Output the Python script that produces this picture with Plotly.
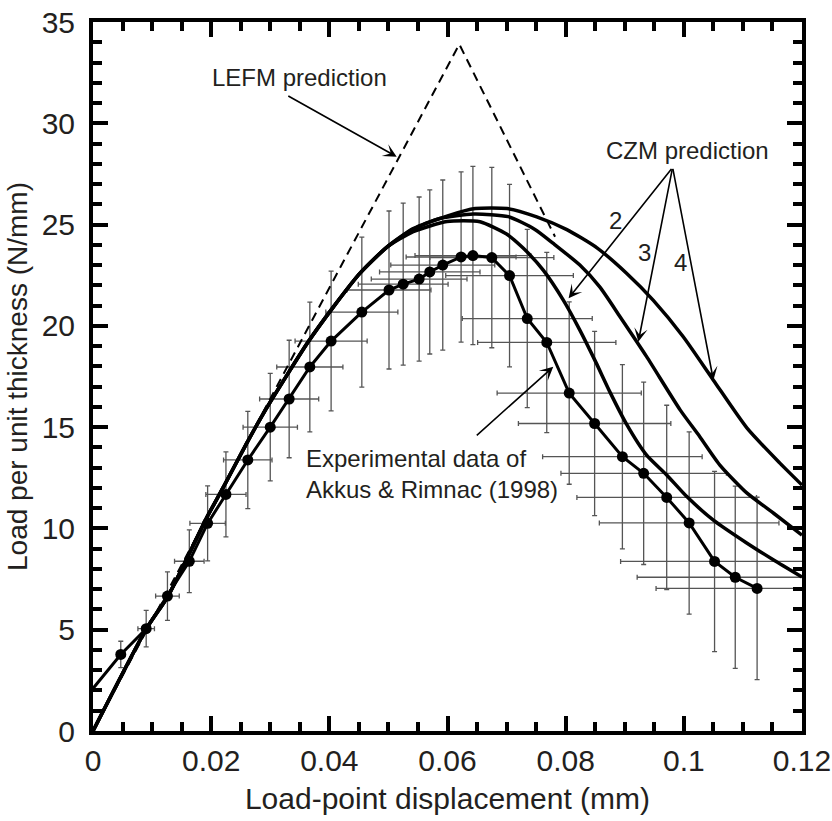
import plotly.graph_objects as go

exp_x = [0.0047, 0.0090, 0.0126, 0.0163, 0.0194, 0.0225, 0.0262, 0.0300, 0.0332, 0.0367,
         0.0403, 0.0455, 0.0501, 0.0525, 0.0552, 0.0570, 0.0592, 0.0623, 0.0643, 0.0675,
         0.0705, 0.0735, 0.0768, 0.0806, 0.0849, 0.0896, 0.0932, 0.0971, 0.1009, 0.1052,
         0.1087, 0.1124]
exp_y = [3.78, 5.05, 6.66, 8.38, 10.25, 11.68, 13.38, 15.0, 16.39, 17.97,
         19.25, 20.68, 21.77, 22.06, 22.31, 22.66, 23.0, 23.4, 23.47, 23.37,
         22.48, 20.36, 19.18, 16.68, 15.18, 13.54, 12.72, 11.53, 10.27, 8.37,
         7.59, 7.04]
exp_xerr = [0.0003, 0.0014, 0.0020, 0.0025, 0.0030, 0.0034, 0.0041, 0.0046, 0.0050, 0.0056,
            0.0061, 0.0061, 0.0071, 0.0076, 0.0081, 0.0085, 0.0088, 0.0093, 0.0098, 0.0105,
            0.0108, 0.0110, 0.0117, 0.0122, 0.0129, 0.0135, 0.0140, 0.0152, 0.0152, 0.0159,
            0.0166, 0.0171]
exp_yerr = [0.65, 0.9, 1.2, 1.55, 1.85, 2.1, 2.4, 2.65, 2.9, 3.2,
            3.45, 3.7, 3.9, 4.0, 4.05, 4.05, 4.2, 4.2, 4.4, 4.45,
            4.5, 4.4, 4.45, 4.5, 4.55, 4.55, 4.5, 4.55, 4.5, 4.45,
            4.5, 4.5]
# the experimental line also runs down to the load axis
exp_start_x = 0.0
exp_start_y = 2.1

# LEFM prediction
lefm_x = [0.0, 0.062, 0.0782]
lefm_y = [0.0, 33.9, 24.4]

# CZM predictions
rise_x = [0.0, 0.009, 0.0127, 0.0193, 0.022, 0.026, 0.0295, 0.0364, 0.0406, 0.0452, 0.0498]
rise_y = [0.0, 5.03, 6.66, 10.56, 12.0, 14.2, 16.0, 19.2, 20.9, 22.6, 23.9]

czm2_x = rise_x + [0.0542, 0.0599, 0.0655, 0.0700, 0.0728, 0.0762, 0.0796, 0.0824, 0.0851,
                   0.0875, 0.0903, 0.0937, 0.0971, 0.1005, 0.1050, 0.1107, 0.1152, 0.12]
czm2_y = rise_y + [24.65, 25.15, 25.14, 24.53, 23.84, 22.75, 21.27, 19.79, 18.21,
                   16.73, 15.15, 13.62, 12.64, 11.57, 10.41, 9.27, 8.44, 7.6]

czm3_x = rise_x + [0.0542, 0.0587, 0.0644, 0.0703, 0.0748, 0.0779, 0.0824, 0.0858, 0.0892,
                   0.0937, 0.0994, 0.1027, 0.1061, 0.1107, 0.1152, 0.12]
czm3_y = rise_y + [24.78, 25.3, 25.52, 25.39, 24.76, 24.07, 23.0, 21.91, 20.45,
                   18.48, 15.84, 14.53, 13.13, 11.74, 10.75, 9.67]

czm4_x = rise_x + [0.0542, 0.0599, 0.0647, 0.0701, 0.0751, 0.0802, 0.0853, 0.0903, 0.0948,
                   0.0999, 0.1050, 0.1107, 0.1163, 0.12]
czm4_y = rise_y + [24.8, 25.42, 25.79, 25.79, 25.38, 24.75, 23.85, 22.6, 21.27,
                   19.46, 17.32, 14.95, 13.21, 12.14]

FONT = "Liberation Sans, Arial, Helvetica, sans-serif"
INK = "#231f20"

fig = go.Figure()

fig.add_trace(go.Scatter(
    x=exp_x, y=exp_y, mode="markers",
    marker=dict(color="black", size=11),
    error_x=dict(type="data", array=exp_xerr, color="#555", thickness=1.3, width=2.5),
    error_y=dict(type="data", array=exp_yerr, color="#555", thickness=1.3, width=2.5),
    showlegend=False))

fig.add_trace(go.Scatter(
    x=[exp_start_x] + exp_x, y=[exp_start_y] + exp_y, mode="lines",
    line=dict(color="black", width=3), showlegend=False))

fig.add_trace(go.Scatter(
    x=lefm_x, y=lefm_y, mode="lines",
    line=dict(color="black", width=2, dash="9px,6px"), showlegend=False))

for cx, cy in [(czm2_x, czm2_y), (czm3_x, czm3_y), (czm4_x, czm4_y)]:
    fig.add_trace(go.Scatter(
        x=cx, y=cy, mode="lines",
        line=dict(color="black", width=3.5, shape="spline", smoothing=0.6),
        showlegend=False))

arrow = dict(showarrow=True, arrowhead=3, arrowsize=1.4, arrowwidth=1.6,
             arrowcolor="black", axref="x", ayref="y", xref="x", yref="y", text="")
annotations = [
    dict(arrow, x=0.0514, y=28.35, ax=0.0328, ay=31.39),
    dict(arrow, x=0.0805, y=21.36, ax=0.0981, ay=27.82),
    dict(arrow, x=0.0923, y=19.22, ax=0.0981, ay=27.82),
    dict(arrow, x=0.1050, y=17.32, ax=0.0981, ay=27.82),
    dict(arrow, x=0.0779, y=17.98, ax=0.0647, ay=14.53),
]
labels = [
    ("LEFM prediction", 0.0350, 32.28, "center"),
    ("CZM prediction", 0.1007, 28.68, "center"),
    ("2", 0.0884, 25.22, "center"),
    ("3", 0.0933, 23.6, "center"),
    ("4", 0.0994, 23.15, "center"),
    ("Experimental data of<br>Akkus & Rimnac (1998)", 0.0357, 12.68, "left"),
]
for txt, tx, ty, anchor in labels:
    annotations.append(dict(text=txt, x=tx, y=ty, xref="x", yref="y", showarrow=False,
                            xanchor=anchor, yanchor="middle", align="left",
                            font=dict(family=FONT, size=24, color=INK)))

axis_common = dict(
    showline=True, linewidth=4, linecolor="black", mirror="ticks",
    ticks="inside", ticklen=15, tickwidth=4, tickcolor="black",
    showgrid=False, zeroline=False, automargin=False,
    ticklabeloverflow="allow",
    tickfont=dict(family=FONT, size=30, color=INK),
)

fig.update_layout(
    width=832, height=821,
    margin=dict(l=93, r=30, t=22, b=90),
    paper_bgcolor="white", plot_bgcolor="white",
    font=dict(family=FONT, color=INK),
    annotations=annotations,
    xaxis=dict(axis_common, range=[0, 0.12], dtick=0.02, ticklabelstandoff=0,
               minor=dict(dtick=0.005, ticks="inside", ticklen=9, tickwidth=3.5, tickcolor="black"),
               title=dict(text="Load-point displacement (mm)", standoff=13,
                          font=dict(family=FONT, size=30, color=INK))),
    yaxis=dict(axis_common, range=[0, 35], dtick=5, ticklabelstandoff=8,
               minor=dict(dtick=1, ticks="inside", ticklen=9, tickwidth=3.5, tickcolor="black"),
               title=dict(text="Load per unit thickness (N/mm)", standoff=7,
                          font=dict(family=FONT, size=28, color=INK))),
)

# drop the default page margin so the figure fills the window exactly
fig.write_html("out.html", config={"displayModeBar": False},
               post_script="document.body.style.margin='0';")
